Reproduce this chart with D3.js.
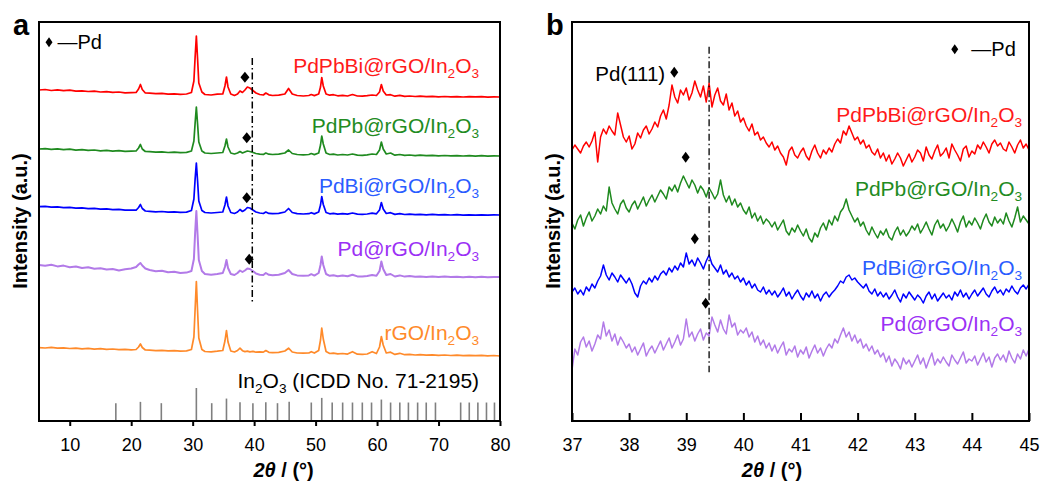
<!DOCTYPE html>
<html>
<head>
<meta charset="utf-8">
<script src="https://cdn.jsdelivr.net/npm/d3@7"></script>
<style>
body { margin:0; background:#fff; }
svg text { font-family: "Liberation Sans", Arial, sans-serif; }
</style>
</head>
<body>
<svg id="fig" width="1043" height="484"></svg>
<script>
// ---------- panneau a : diffractogrammes 5-80° ----------
const thetaA = [5,6,7,8,9,10,11,12,13,14,15,16,17,18,19,20,
  20.8,21.2,21.5,21.8,22.3,
  23,24,25,26,27,28,29,
  29.8,30.2,30.4,30.6,30.8,31.0,31.5,
  32,33,34,
  34.9,35.25,35.5,35.75,36.2,36.8,
  37.3,37.7,38.1,38.5,38.9,39.3,39.8,40.3,40.9,41.5,41.9,42.4,43,
  44,45,45.6,46.2,47,48,
  48.9,49.3,49.8,50.5,50.8,51.0,51.25,51.7,52.3,52.9,53.6,54.4,55.2,56,56.8,57.6,58.4,59.2,59.9,60.4,60.7,61.0,61.5,62.2,62.9,63.7,64.5,65.3,66.2,67,
  68,69,70,71,72,73,74,75,76,77,78,79,80];

const pdpbbiA = [331,331.5,330.5,331.2,330.3,330.8,329.8,330.2,329.5,329.9,329,329.4,328.6,329,328.2,328.4,
  328.6,332,336.5,331.5,328,
  327.8,327.3,327.6,326.9,327.2,326.6,327,
  328.5,340,364,385,362,338,329,
  326.5,326,326.8,
  327,335,344,334,327,325.5,
  327,330,328.5,331,334,333,330.5,328,326.5,326,328,326.2,325.5,
  325.8,327,332.5,327,325.5,325,
  325.5,326.5,325.4,327,334,343.5,335,327,325.8,326.3,325.2,325.6,325,326.5,325,324.8,325.3,326,325.5,329,336.5,330,326,326.3,324.8,325.6,324.7,325,324.5,324.8,
  324.3,324.7,324.2,324.5,324.1,324.4,324,324.3,324.1,324.4,323.9,324.2,324];

const pdpbA = [272,272.4,271.6,272.1,271.3,271.8,270.9,271.3,270.6,271,270.2,270.6,269.9,270.3,269.6,269.9,
  270,273,276.5,272,269.5,
  269.3,268.8,269.1,268.5,268.9,268.3,268.6,
  270,280,298,314,297,279,270,
  268,267.5,268,
  268.5,275,282,274,268,267,
  268,269.5,268,269,270,269.5,268.5,267.5,266.8,266.6,268,266.8,266.5,
  266.8,268,271,267.5,266.5,266.2,
  266.5,267.5,266.4,268,276,285,277,268,266.5,266.8,266,266.5,266,267,265.8,265.6,266.2,267,266.5,271,279,272,267,268,265.8,266.5,265.6,266,265.4,265.8,
  265.3,265.7,265.2,265.5,265.1,265.4,265,265.3,264.9,265.3,264.8,265.1,265];

const pdbiA = [214.3,214.6,213.8,214.2,213.4,213.7,212.9,213.2,212.4,212.7,211.9,212.2,211.4,211.6,210.8,211,
  210.8,213.5,216.5,212.5,210,
  209.7,209.2,209.5,208.9,209.2,208.6,208.9,
  210.5,222,242,258,240,220,210.5,
  208.5,208,208.5,
  209,216,224,215,208.5,207.5,
  209,211.5,209.5,211,213.5,213,211,209,208,207.5,209,207.6,207.3,
  207.6,209,212.5,208.5,207.3,207,
  207.3,208.3,207.1,209,216,224.5,216.5,208.5,207.2,207.6,206.9,207.3,206.8,208,206.8,206.6,207,207.8,207.2,211,218.5,212,207.5,208.3,206.6,207.4,206.5,206.9,206.3,206.7,
  206.2,206.6,206.1,206.4,206,206.3,205.9,206.2,205.8,206.2,205.8,206.1,206];

const pdA = [156,155.2,156.3,154.6,155.4,153.8,154.5,153,153.8,152.2,152.8,151.4,151.9,150.6,151.8,152.5,
  154,156.5,158,155.5,152.5,
  151,149.8,150.3,148.8,149.3,148,148.4,
  150,162,188,210,186,161,150,
  147,146.3,147,
  148,154,161,153,147,146,
  148,150.5,149,150.5,152.5,152,150,147.5,146.3,146,148,146.2,145.8,
  146.2,148,151,147,145.6,145.3,
  145.6,146.8,145.4,148,156,164.5,156,147,145.2,145.8,144.8,145.4,144.7,146.3,144.6,144.4,145,146,145.3,150,159.5,152,146,147,144.5,145.6,144.4,144.9,144.2,144.6,
  144.1,144.6,144,144.4,143.9,144.3,143.8,144.2,143.8,144.2,143.7,144.1,144];

const rgoA = [73.3,73,73.6,72.8,73.2,72.5,72.9,72.2,72.6,71.9,72.3,71.6,72,71.4,71.7,71.2,
  71.5,74,77,73.5,71,
  70.8,70.4,70.7,70.1,70.4,69.8,70.1,
  71.5,84,112,139.5,110,83,71.5,
  69.5,69.2,69.8,
  70.5,80,90.5,79,70,69,
  70.5,72.8,70.3,69.4,69.8,69.2,69.6,68.8,69.2,68.9,70.5,68.7,68.3,
  68.6,70,72.8,69,68,67.8,
  68,69.3,67.9,70.5,81,93,82,69.5,67.5,67.9,67.1,67.5,66.9,69.3,66.8,66.6,67,69.3,67.5,74,84.5,76,68,68.8,66.6,67.7,66.3,66.6,66,66.3,
  65.9,66.2,65.7,66,65.5,65.9,65.4,65.7,65.3,65.6,65.2,65.5,65];

// fiche ICDD 71-2195 (position, intensité relative)
const icddTheta = [17.5,21.5,24.9,30.6,33.1,35.5,37.7,39.8,41.9,43.8,45.7,49.3,51.0,52.7,54.4,56.0,57.6,59.1,60.7,62.2,63.7,65.1,66.6,68.0,69.5,73.6,75.0,76.4,77.8,79.1];
const icddInt   = [54,58,54,100,54,68,57,54,57,54,58,56,70,56,56,56,56,56,65,56,56,56,56,56,56,56,56,56,56,56];

// ---------- panneau b : zoom 37-45° (pas 0.05°) ----------
const thetaB0 = 37, pasB = 0.05;
const pdpbbiB = [271,276,272,268,275,279,274,280,289,259,
  284,292,287,295,290,286,308,296,284,279,
  285,272,277,288,283,291,295,287,292,299,
  294,305,311,302,316,336,324,318,331,326,
  333,321,328,340,331,324,335,319,338,314,
  326,333,320,316,327,311,318,305,310,299,
  303,295,290,297,286,289,281,284,278,274,
  279,271,275,268,264,256,270,274,266,263,
  269,273,265,261,270,276,268,263,271,267,
  273,269,277,282,278,290,286,295,288,281,
  284,277,281,273,276,269,266,272,263,268,
  260,266,257,262,268,263,255,261,267,259,
  264,271,268,260,274,266,262,270,276,265,
  268,273,263,277,271,266,260,272,275,264,
  270,267,276,272,279,274,268,277,281,275,
  278,272,270,279,274,268,276,281,273,277,
  271];
const pdpbB = [198,192,201,206,195,203,209,200,205,212,
  207,215,210,234,218,212,207,217,221,213,
  209,216,220,212,218,224,215,221,226,219,
  225,231,227,222,234,230,236,229,238,245,
  239,233,241,236,228,235,231,224,233,228,
  222,227,241,226,219,225,216,222,214,218,
  211,207,214,203,208,200,205,197,202,199,
  194,199,191,196,201,190,186,193,189,196,
  190,185,192,183,179,188,184,193,198,191,
  201,196,205,200,209,213,222,211,205,199,
  203,195,199,191,186,194,188,183,190,186,
  192,184,181,189,194,186,191,185,189,195,
  191,197,188,193,199,192,186,196,201,193,
  197,190,195,202,196,189,199,205,194,200,
  196,203,198,192,201,207,199,195,204,198,
  202,197,208,200,194,203,214,199,205,201,
  197];
const pdbiB = [129,133,127,131,126,134,130,137,133,140,
  145,156,146,141,148,144,139,146,142,138,
  143,137,128,124,135,140,137,143,139,145,
  141,147,150,146,153,149,155,151,158,154,
  168,157,161,155,163,158,152,160,166,157,
  153,149,156,147,151,144,148,142,145,139,
  143,136,140,133,137,131,129,134,127,131,
  126,130,124,128,133,125,129,122,127,131,
  125,121,128,124,130,123,127,120,126,129,
  124,128,131,135,140,138,144,146,141,143,
  139,136,133,137,130,127,132,125,129,124,
  128,122,126,131,124,119,127,123,129,125,
  121,126,123,118,125,129,122,127,120,124,
  128,123,126,121,129,125,131,124,128,122,
  127,131,125,129,133,127,124,130,134,128,
  131,126,132,129,135,130,127,133,136,132,
  137];
const pdB = [51,72,66,79,84,74,80,70,77,86,
  82,99,85,91,80,87,76,84,79,73,
  77,69,74,66,72,78,65,71,75,68,
  74,80,71,77,83,73,79,86,76,82,
  102,84,89,80,87,92,81,88,85,104,
  96,89,101,92,87,106,94,98,86,91,
  88,93,84,89,79,85,76,81,73,78,
  70,76,68,74,79,66,72,69,75,64,
  71,67,74,63,70,76,68,73,65,72,
  77,73,82,78,86,93,84,89,80,86,
  78,82,73,77,70,75,67,71,64,68,
  59,65,55,62,58,52,63,57,61,54,
  60,66,57,63,53,61,68,56,62,58,
  64,59,55,66,61,57,63,69,58,62,
  60,65,56,62,68,59,64,54,63,67,
  61,66,59,70,63,58,67,62,71,65,
  72];

// marqueurs Pd (position, intensité)
const pdMarksA = [[38.5,343.7],[38.8,283.3],[38.8,223.3],[39.2,161.7]];
const pdMarksB = [[38.99,263.7],[39.15,182.3],[39.34,117.7]];

const nomsA = [["PdPbBi@rGO/In","2","O","3"],["PdPb@rGO/In","2","O","3"],["PdBi@rGO/In","2","O","3"],["Pd@rGO/In","2","O","3"],["rGO/In","2","O","3"]];
const nomsB = nomsA.slice(0,4);
const couleursLigne = ["#ff0000","#1f8a1f","#0000ff","#b27ae8","#ff8a2a"];
const couleursTexte = ["#ff1a1a","#228b22","#2a5cff","#9b30f5","#ff8a2a"];

// ---------- mise en page ----------
const svg = d3.select("#fig");
const xA = d3.scaleLinear().domain([5,80]).range([39,500]);
const xB = d3.scaleLinear().domain([37,45]).range([572,1029]);
const yI = d3.scaleLinear().domain([0,399]).range([421,22]);
const yStick = d3.scaleLinear().domain([0,100]).range([421,388]);

function diamant(w,h){
  return "M0,"+(-h/2)+"L"+(w/2)+",0L0,"+(h/2)+"L"+(-w/2)+",0Z";
}

function chimie(g, parts, x, y, color, size){
  const t = g.append("text").attr("x",x).attr("y",y)
    .attr("text-anchor","end").attr("fill",color).attr("font-size",size);
  parts.forEach((p,k) => {
    const sub = k % 2 === 1;
    t.append("tspan").text(p)
      .attr("font-size", sub ? size*0.65 : size)
      .attr("dy", k === 0 ? 0 : (sub ? 5 : -5));
  });
}

function cadre(x, lettre, lx){
  const r = x.range();
  svg.append("rect").attr("x",r[0]).attr("y",yI.range()[1])
    .attr("width",r[1]-r[0]).attr("height",yI.range()[0]-yI.range()[1])
    .attr("fill","none").attr("stroke","#000").attr("stroke-width",2);
  svg.append("text").attr("x",lx).attr("y",35).attr("font-size",29)
    .attr("font-weight","bold").text(lettre);
}

function titres(cx, ty){
  svg.append("text").attr("transform","translate("+ty+",221) rotate(-90)")
    .attr("text-anchor","middle").attr("dy","0.35em")
    .attr("font-size",20).attr("font-weight","bold").text("Intensity (a.u.)");
  const t = svg.append("text").attr("x",cx).attr("y",477)
    .attr("text-anchor","middle").attr("font-size",20).attr("font-weight","bold");
  t.append("tspan").attr("font-style","italic").text("2θ");
  t.append("tspan").text(" / (°)");
}

const ligne = (x) => d3.line().x(d => x(d[0])).y(d => yI(d[1]));

// ----- panneau a -----
const gA = svg.append("g");
gA.selectAll("line.icdd").data(d3.zip(icddTheta, icddInt)).join("line")
  .attr("x1",d => xA(d[0])).attr("x2",d => xA(d[0]))
  .attr("y1",yStick(0)).attr("y2",d => yStick(d[1]))
  .attr("stroke","#7f7f7f").attr("stroke-width",1.6);

[pdpbbiA, pdpbA, pdbiA, pdA, rgoA].forEach((s,k) => {
  gA.append("path").datum(d3.zip(thetaA, s)).attr("d", ligne(xA))
    .attr("fill","none").attr("stroke",couleursLigne[k])
    .attr("stroke-width", k === 3 ? 2 : 1.7).attr("stroke-linejoin","round");
});

gA.append("line").attr("x1",xA(39.7)).attr("x2",xA(39.7))
  .attr("y1",yI(363)).attr("y2",yI(118))
  .attr("stroke","#000").attr("stroke-width",1.5).attr("stroke-dasharray","7,3,1.5,3");

gA.selectAll("path.pd").data(pdMarksA).join("path")
  .attr("d",diamant(9,11))
  .attr("transform",d => "translate("+xA(d[0])+","+yI(d[1])+")");

const yLabA = [348.3, 288.3, 228, 165.5, 81];
nomsA.forEach((n,k) => chimie(gA, n, xA(76.6), yI(yLabA[k]), couleursTexte[k], 21));
chimie(gA, ["In","2","O","3"," (ICDD No. 71-2195)"], xA(76.6), yI(33), "#000", 21);

gA.append("path").attr("d",diamant(7,10))
  .attr("transform","translate("+xA(6.63)+","+yI(378.7)+")");
gA.append("text").attr("x",xA(8.0)).attr("y",yI(372)).attr("font-size",20).text("—Pd");

const axA = gA.append("g").attr("transform","translate(0,421)")
  .call(d3.axisBottom(xA).tickValues([10,20,30,40,50,60,70,80])
    .tickSize(5).tickSizeOuter(0).tickPadding(12.5));
axA.select(".domain").remove();
axA.selectAll(".tick line").attr("stroke-width",2);
axA.selectAll("text").attr("font-size",18).attr("font-family",null).attr("fill","#000");
cadre(xA, "a", 13);
titres(xA(44.8), 20);

// ----- panneau b -----
const gB = svg.append("g");
[pdpbbiB, pdpbB, pdbiB, pdB].forEach((s,k) => {
  const pts = s.map((v,i) => [thetaB0 + i*pasB, v]);
  gB.append("path").datum(pts).attr("d", ligne(xB))
    .attr("fill","none").attr("stroke",couleursLigne[k])
    .attr("stroke-width",1.5).attr("stroke-linejoin","round");
});

gB.append("line").attr("x1",xB(39.4)).attr("x2",xB(39.4))
  .attr("y1",yI(374.3)).attr("y2",yI(48.7))
  .attr("stroke","#000").attr("stroke-width",1.3).attr("stroke-dasharray","7,3,1.5,3");

gB.selectAll("path.pd").data(pdMarksB).join("path")
  .attr("d",diamant(8,11))
  .attr("transform",d => "translate("+xB(d[0])+","+yI(d[1])+")");
gB.append("path").attr("d",diamant(8,11))
  .attr("transform","translate("+xB(38.79)+","+yI(348.7)+")");
gB.append("text").attr("x",xB(38.63)).attr("y",yI(340)).attr("text-anchor","end")
  .attr("font-size",20.5).text("Pd(111)");

const yLabB = [299.3, 225, 146, 90];
nomsB.forEach((n,k) => chimie(gB, n, xB(44.88), yI(yLabB[k]), couleursTexte[k], 21));

gB.append("path").attr("d",diamant(7,10))
  .attr("transform","translate("+xB(43.70)+","+yI(371.7)+")");
gB.append("text").attr("x",xB(43.99)).attr("y",yI(364.8)).attr("font-size",20).text("—Pd");

const axB = gB.append("g").attr("transform","translate(0,421)")
  .call(d3.axisBottom(xB).tickValues(d3.range(37,46))
    .tickFormat(d3.format("d")).tickSize(-8).tickSizeOuter(0).tickPadding(17.5));
axB.select(".domain").remove();
axB.selectAll(".tick line").attr("stroke-width",2);
axB.selectAll("text").attr("font-size",18).attr("font-family",null).attr("fill","#000");
cadre(xB, "b", 546);
titres(xB(40.5), 553);
</script>
</body>
</html>
